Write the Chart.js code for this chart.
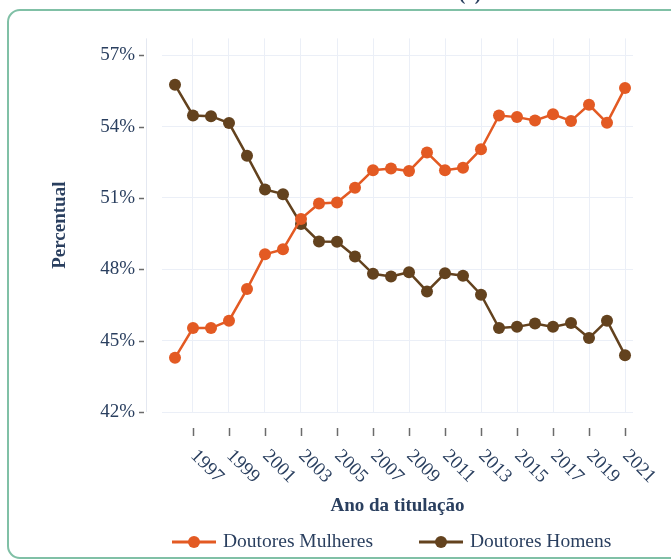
<!DOCTYPE html>
<html lang="pt">
<head>
  <meta charset="UTF-8">
  <title>Doutores titulados por sexo</title>
  <script src="https://cdn.jsdelivr.net/npm/chart.js"></script>
  <style>
    html, body {
      margin: 0;
      padding: 0;
      background: #fff;
      overflow: hidden;
    }

    .card {
      position: absolute;
      left: 7px;
      top: 9px;
      width: 720px;
      height: 546px;
      border: 2px solid #80c0a6;
      border-radius: 13px;
    }

    #chart {
      position: absolute;
      left: 0;
      top: 0;
    }
  </style>
</head>
<body>

  <div class="card"></div>
  <canvas id="chart" width="671" height="559"></canvas>

  <script>
    const years = [1996, 1997, 1998, 1999, 2000, 2001, 2002, 2003, 2004, 2005, 2006, 2007, 2008,
                   2009, 2010, 2011, 2012, 2013, 2014, 2015, 2016, 2017, 2018, 2019, 2020, 2021];
    const mulheres = [44.28, 45.53, 45.53, 45.84, 47.17, 48.63, 48.84, 50.12, 50.77, 50.81, 51.43, 52.17, 52.24,
                      52.13, 52.91, 52.17, 52.27, 53.05, 54.47, 54.40, 54.26, 54.52, 54.24, 54.92, 54.16, 55.62];
    const homens = [55.76, 54.47, 54.44, 54.15, 52.78, 51.36, 51.16, 49.91, 49.17, 49.16, 48.54, 47.81, 47.70,
                    47.88, 47.07, 47.83, 47.73, 46.93, 45.53, 45.58, 45.72, 45.58, 45.74, 45.11, 45.84, 44.39];
    const xTicks = [1997, 1999, 2001, 2003, 2005, 2007, 2009, 2011, 2013, 2015, 2017, 2019, 2021];
    const yTicks = [42, 45, 48, 51, 54, 57];

    const TEXT = '#2a3f5f';
    const GRID = '#ebeff7';
    const FONT = 'Liberation Serif, Times New Roman, serif';

    function series(values) {
      return years.map((y, i) => ({ x: y, y: values[i] }));
    }

    function makeDataset(label, values, color) {
      return {
        label,
        data: series(values),
        borderColor: color,
        backgroundColor: color,
        borderWidth: 2.5,
        pointRadius: 6,
        pointBorderWidth: 0,
        pointHoverRadius: 6,
        tension: 0
      };
    }

    // axis line, outside tick marks, rotated year labels and the legend
    const decorations = {
      id: 'decorations',
      afterDraw(chart) {
        const { ctx, chartArea, scales } = chart;
        const x = scales.x, y = scales.y;
        ctx.save();

        // title fragment above the card
        ctx.fillStyle = TEXT;
        ctx.font = 'bold 19px ' + FONT;
        ctx.textBaseline = 'alphabetic';
        ctx.textAlign = 'left';
        ctx.fillText('(a)', 459, 0);

        // y axis line, set off from the plot
        ctx.strokeStyle = '#e4e8f1';
        ctx.lineWidth = 1;
        ctx.beginPath();
        ctx.moveTo(chartArea.left - 15.5, chartArea.top);
        ctx.lineTo(chartArea.left - 15.5, chartArea.bottom);
        ctx.stroke();

        // y tick marks
        ctx.strokeStyle = '#6b6b6b';
        ctx.lineWidth = 1.5;
        y.ticks.forEach(t => {
          const py = Math.round(y.getPixelForValue(t.value)) + 0.5;
          ctx.beginPath();
          ctx.moveTo(chartArea.left - 23, py);
          ctx.lineTo(chartArea.left - 18, py);
          ctx.stroke();
        });

        // x tick marks and labels turned 45 degrees
        ctx.font = '19px ' + FONT;
        ctx.fillStyle = TEXT;
        ctx.textAlign = 'left';
        ctx.textBaseline = 'middle';
        x.ticks.forEach(t => {
          const px = Math.round(x.getPixelForValue(t.value)) + 0.5;
          ctx.strokeStyle = '#6b6b6b';
          ctx.beginPath();
          ctx.moveTo(px, chartArea.bottom + 16);
          ctx.lineTo(px, chartArea.bottom + 24);
          ctx.stroke();
          ctx.save();
          ctx.translate(px, chartArea.bottom + 41);
          ctx.rotate(Math.PI / 4);
          ctx.fillText(String(t.value), 0, 0);
          ctx.restore();
        });

        // legend: line with a dot, then the series name
        let lx = 172;
        const ly = 542;
        chart.data.datasets.forEach(ds => {
          ctx.strokeStyle = ds.borderColor;
          ctx.lineWidth = 3;
          ctx.beginPath();
          ctx.moveTo(lx, ly);
          ctx.lineTo(lx + 44, ly);
          ctx.stroke();
          ctx.fillStyle = ds.backgroundColor;
          ctx.beginPath();
          ctx.arc(lx + 22, ly, 6, 0, Math.PI * 2);
          ctx.fill();
          ctx.fillStyle = TEXT;
          ctx.font = '19.5px ' + FONT;
          ctx.fillText(ds.label, lx + 51, ly);
          lx += 51 + ctx.measureText(ds.label).width + 46;
        });

        ctx.restore();
      }
    };

    new Chart(document.getElementById('chart'), {
      type: 'line',
      data: {
        datasets: [
          makeDataset('Doutores Mulheres', mulheres, '#e35a23'),
          makeDataset('Doutores Homens', homens, '#63421e')
        ]
      },
      options: {
        responsive: false,
        animation: false,
        layout: { padding: { top: 36, right: 38, bottom: 0, left: 0 } },
        scales: {
          x: {
            type: 'linear',
            min: 1995.278,
            max: 2021.444,
            afterBuildTicks: s => { s.ticks = xTicks.map(v => ({ value: v })); },
            afterFit: s => { s.height = 147; },
            grid: { color: GRID, lineWidth: 1, drawTicks: false },
            border: { display: false },
            ticks: { display: false },
            title: {
              display: true,
              text: 'Ano da titulação',
              color: TEXT,
              font: { family: FONT, size: 19, weight: 'bold' },
              padding: { top: 0, bottom: 42 }
            }
          },
          y: {
            min: 42,
            max: 57.71,
            afterBuildTicks: s => { s.ticks = yTicks.map(v => ({ value: v })); },
            afterFit: s => { s.width = 162; },
            grid: { color: GRID, lineWidth: 1, drawTicks: false },
            border: { display: false },
            ticks: {
              padding: 27,
              color: TEXT,
              font: { family: FONT, size: 19 },
              callback: v => v + '%'
            },
            title: {
              display: true,
              text: 'Percentual',
              color: TEXT,
              font: { family: FONT, size: 19, weight: 'bold' },
              padding: { top: 49, bottom: 0 }
            }
          }
        },
        plugins: {
          legend: { display: false },
          tooltip: { enabled: false }
        }
      },
      plugins: [decorations]
    });
  </script>
</body>
</html>
